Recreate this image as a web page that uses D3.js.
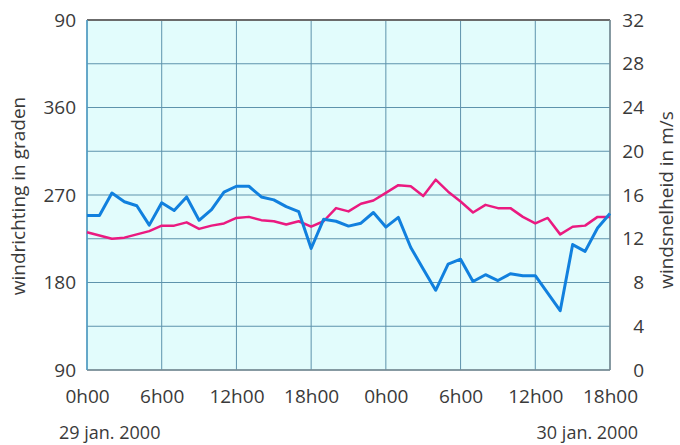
<!DOCTYPE html>
<html>
<head>
<meta charset="utf-8">
<script src="https://cdn.jsdelivr.net/npm/d3@7/dist/d3.min.js"></script>
<style>
  html, body { margin: 0; padding: 0; background: #ffffff; }
  svg { display: block; }
  text { font-family: "Open Sans", "Noto Sans", sans-serif; fill: #3a3a3a; }
</style>
</head>
<body>
<svg id="chart" width="680" height="445"></svg>
<script>
// ---- data ----
const hours = [0,1,2,3,4,5,6,7,8,9,10,11,12,13,14,15,16,17,18,19,20,21,22,23,24,25,26,27,28,29,30,31,32,33,34,35,36,37,38,39,40,41,42];
const windDirection = [249,249,272,263,259,239,262,254,268,244,255,273,279,279,268,265,258,253,215,245,243,238,241,252,237,247,216,194,172,199,204,181,188,182,189,187,187,169,151,219,212,236,251];
const windSpeed = [12.6,12.3,12.0,12.1,12.4,12.7,13.2,13.2,13.5,12.9,13.2,13.4,13.9,14.0,13.7,13.6,13.3,13.6,13.1,13.6,14.8,14.5,15.2,15.5,16.2,16.9,16.8,15.9,17.4,16.3,15.4,14.4,15.1,14.8,14.8,14.0,13.4,13.9,12.4,13.1,13.2,14.0,14.0];
const xTickValues = [0,6,12,18,24,30,36,42];
const xTickLabels = ["0h00","6h00","12h00","18h00","0h00","6h00","12h00","18h00"];
const leftTickValues = [90,180,270,360,450];
const leftTickLabels = ["90","180","270","360","90"];
const rightTickValues = [0,4,8,12,16,20,24,28,32];
const dateLabels = ["29 jan. 2000","30 jan. 2000"];
const leftTitle = "windrichting in graden";
const rightTitle = "windsnelheid in m/s";

// ---- layout ----
const L = 87, R = 610, T = 20, B = 370;
const svg = d3.select("#chart");

const x = d3.scaleLinear().domain([0, 42]).range([L, R]);
const yDir = d3.scaleLinear().domain([90, 450]).range([B, T]);
const ySpd = d3.scaleLinear().domain([0, 32]).range([B, T]);

// background
svg.append("rect").attr("x", L).attr("y", T).attr("width", R - L).attr("height", B - T)
  .attr("fill", "#e2fcfc");

// grid
const grid = svg.append("g");
grid.selectAll("line.h").data(rightTickValues).join("line")
  .attr("x1", L).attr("x2", R)
  .attr("y1", d => ySpd(d)).attr("y2", d => ySpd(d))
  .attr("stroke", "#5e93ac").attr("stroke-width", 1);
grid.selectAll("line.v").data(xTickValues).join("line")
  .attr("y1", T).attr("y2", B)
  .attr("x1", d => x(d)).attr("x2", d => x(d))
  .attr("stroke", "#5e93ac").attr("stroke-width", 1);

// borders
svg.append("line").attr("x1", L).attr("x2", R).attr("y1", T).attr("y2", T)
  .attr("stroke", "#6b6b6b").attr("stroke-width", 2);
svg.append("line").attr("x1", L).attr("x2", R).attr("y1", B).attr("y2", B)
  .attr("stroke", "#7a8a90").attr("stroke-width", 1.5);
svg.append("line").attr("x1", L).attr("x2", L).attr("y1", T).attr("y2", B)
  .attr("stroke", "#4f9cc4").attr("stroke-width", 1.5);
svg.append("line").attr("x1", R).attr("x2", R).attr("y1", T).attr("y2", B)
  .attr("stroke", "#7a8a90").attr("stroke-width", 1.5);

// axes (labels only, via d3 axes)
const fs = 19;
const xAxis = svg.append("g").attr("transform", `translate(0,${B})`)
  .call(d3.axisBottom(x).tickValues(xTickValues).tickSize(0).tickPadding(20)
    .tickFormat((d, i) => xTickLabels[i]));
const leftAxis = svg.append("g").attr("transform", `translate(${L},0)`)
  .call(d3.axisLeft(yDir).tickValues(leftTickValues).tickSize(0).tickPadding(11)
    .tickFormat((d, i) => leftTickLabels[i]));
const rightAxis = svg.append("g").attr("transform", `translate(${R},0)`)
  .call(d3.axisRight(ySpd).tickValues(rightTickValues).tickSize(0).tickPadding(34)
    .tickFormat(d3.format("d")));
[xAxis, leftAxis, rightAxis].forEach(a => {
  a.select(".domain").remove();
  a.selectAll("text").attr("font-size", fs).attr("fill", "#3a3a3a")
    .style("font-family", '"Open Sans", "Noto Sans", sans-serif');
});
rightAxis.selectAll("text").attr("text-anchor", "end");

// date labels
svg.append("text").attr("x", 59).attr("y", 439).attr("font-size", 18)
  .attr("text-anchor", "start").text(dateLabels[0]);
svg.append("text").attr("x", 638).attr("y", 439).attr("font-size", 18)
  .attr("text-anchor", "end").text(dateLabels[1]);

// axis titles
svg.append("text").attr("transform", `translate(25,196) rotate(-90)`)
  .attr("font-size", fs).attr("text-anchor", "middle").text(leftTitle);
svg.append("text").attr("transform", `translate(673,200) rotate(-90)`)
  .attr("font-size", fs).attr("text-anchor", "middle").text(rightTitle);

// lines
const dirLine = d3.line().x((d, i) => x(hours[i])).y(d => yDir(d));
const spdLine = d3.line().x((d, i) => x(hours[i])).y(d => ySpd(d));
svg.append("path").datum(windSpeed).attr("d", spdLine)
  .attr("fill", "none").attr("stroke", "#ea1a80").attr("stroke-width", 2.5)
  .attr("stroke-linejoin", "round");
svg.append("path").datum(windDirection).attr("d", dirLine)
  .attr("fill", "none").attr("stroke", "#1180de").attr("stroke-width", 3)
  .attr("stroke-linejoin", "round");
</script>
</body>
</html>
